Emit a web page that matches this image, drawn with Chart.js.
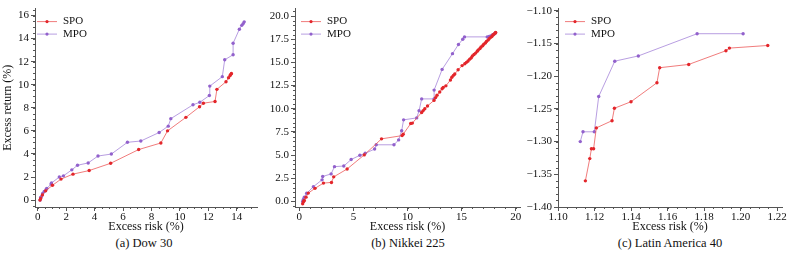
<!DOCTYPE html>
<html>
<head>
<meta charset="utf-8">
<script src="https://cdn.jsdelivr.net/npm/chart.js@4.4.1/dist/chart.umd.min.js"></script>
<style>
body { margin: 0; background: #fff; width: 789px; height: 253px; position: relative; overflow: hidden; font-family: 'Liberation Serif', 'Times New Roman', serif; }
canvas { position: absolute; top: 0; }
.cap { position: absolute; top: 235px; width: 200px; font-size: 12.5px; text-align: center; color: #111; line-height: 16px; }
</style>
</head>
<body>
<canvas id="dow" width="263" height="234" style="left:0px"></canvas>
<canvas id="nikkei" width="263" height="234" style="left:263px"></canvas>
<canvas id="latam" width="263" height="234" style="left:526px"></canvas>
<div class="cap" style="left:44px">(a) Dow 30</div>
<div class="cap" style="left:308px">(b) Nikkei 225</div>
<div class="cap" style="left:570px">(c) Latin America 40</div>
<script>
// Frontières efficientes : SPO vs MPO

const seriesNames = ['SPO', 'MPO'];

// (a) Dow 30
const dowSpoRisk = [0.16, 0.21, 0.33, 0.56, 1.04, 1.64, 2.48, 3.62, 5.13, 7.1, 8.66, 9.13, 10.42, 11.38, 11.65, 12.47, 12.6, 13.24, 13.42, 13.53, 13.58, 13.62];
const dowSpoRet  = [0.0, 0.14, 0.45, 0.8, 1.28, 1.82, 2.25, 2.56, 3.19, 4.38, 4.95, 6.0, 7.17, 8.09, 8.4, 8.55, 9.6, 10.26, 10.6, 10.8, 10.9, 10.98];
const dowMpoRisk = [0.17, 0.21, 0.26, 0.35, 0.46, 0.6, 0.64, 0.94, 0.97, 1.52, 1.81, 2.4, 2.8, 3.55, 4.24, 5.18, 6.31, 7.25, 8.54, 9.18, 9.36, 10.92, 11.4, 12.07, 12.1, 12.98, 13.15, 13.74, 13.74, 14.18, 14.35, 14.45, 14.52];
const dowMpoRet  = [0.0, 0.23, 0.3, 0.57, 0.75, 0.94, 1.0, 1.4, 1.48, 2.0, 2.1, 2.62, 3.02, 3.22, 3.82, 3.99, 5.01, 5.12, 5.86, 6.41, 7.06, 8.26, 8.48, 9.06, 9.88, 10.7, 12.16, 12.6, 13.59, 14.81, 15.15, 15.3, 15.45];

// (b) Nikkei 225
const nikSpoRisk = [0.31, 0.4, 0.46, 0.62, 0.83, 1.45, 2.23, 2.97, 3.18, 4.42, 6.0, 7.6, 9.5, 9.6, 10.3, 10.45, 11.31, 11.45, 11.6, 11.85, 12.45, 12.6, 12.73, 12.98, 13.2, 13.3, 13.55, 13.97, 14.1, 14.25, 14.37, 14.68, 15.05, 15.3, 15.45, 15.6, 15.75, 15.9, 16.0, 16.15, 16.3, 16.45, 16.55, 16.7, 16.8, 16.95, 17.05, 17.2, 17.3, 17.45, 17.55, 17.7, 17.8, 17.9, 18.0, 18.1, 18.15];
const nikSpoRet  = [-0.25, 0.0, 0.1, 0.46, 0.9, 1.41, 1.98, 2.05, 2.65, 3.5, 5.02, 6.75, 7.1, 7.25, 8.4, 8.45, 9.6, 9.8, 10.0, 10.3, 10.9, 11.2, 11.45, 11.8, 12.15, 12.3, 12.47, 13.1, 13.4, 13.6, 13.75, 14.2, 14.65, 14.85, 15.0, 15.15, 15.35, 15.5, 15.7, 15.85, 16.0, 16.2, 16.35, 16.5, 16.65, 16.8, 16.95, 17.1, 17.25, 17.4, 17.55, 17.7, 17.8, 17.95, 18.05, 18.15, 18.22];
const nikMpoRisk = [0.31, 0.37, 0.46, 0.68, 1.3, 2.1, 2.16, 2.94, 3.25, 4.11, 4.79, 5.6, 6.09, 6.96, 7.11, 8.75, 9.18, 9.46, 9.64, 10.85, 11.07, 11.31, 12.46, 12.46, 13.2, 14.16, 14.71, 15.11, 15.27, 17.37, 17.55, 17.7, 17.85, 17.95, 18.05, 18.14];
const nikMpoRet  = [0.0, 0.21, 0.46, 0.88, 1.59, 2.33, 2.69, 2.97, 3.75, 3.82, 4.52, 4.98, 5.19, 5.65, 6.11, 6.11, 6.64, 7.63, 8.8, 9.01, 9.79, 11.06, 11.06, 12.01, 14.24, 15.94, 16.93, 17.49, 17.75, 17.75, 17.8, 17.85, 17.95, 18.0, 18.1, 18.2];

// (c) Latin America 40
const latSpoRisk = [1.1150, 1.1174, 1.1183, 1.1195, 1.1210, 1.1296, 1.1309, 1.1400, 1.1542, 1.1557, 1.1716, 1.1920, 1.1939, 1.2149];
const latSpoRet  = [-1.360, -1.326, -1.311, -1.311, -1.279, -1.268, -1.249, -1.239, -1.210, -1.187, -1.182, -1.161, -1.157, -1.153];
const latMpoRisk = [1.1122, 1.1137, 1.1199, 1.1223, 1.1311, 1.1440, 1.1762, 1.2014];
const latMpoRet  = [-1.300, -1.285, -1.285, -1.231, -1.177, -1.169, -1.135, -1.135];

// graduations
const dowXTicks = [0, 2, 4, 6, 8, 10, 12, 14];
const dowYTicks = [0, 2, 4, 6, 8, 10, 12, 14, 16];
const nikXTicks = [0, 5, 10, 15, 20];
const nikYTicks = [0, 2.5, 5, 7.5, 10, 12.5, 15, 17.5, 20];
const latXTicks = [1.10, 1.12, 1.14, 1.16, 1.18, 1.20, 1.22];
const latYTicks = [-1.40, -1.35, -1.30, -1.25, -1.20, -1.15, -1.10];

const FONT = "'Liberation Serif', 'Times New Roman', serif";
const AXIS = '#555';
const RED = '#e3262b', RED_LINE = 'rgba(235, 80, 80, 0.75)';
const PUR = '#9261cc', PUR_LINE = 'rgba(160, 125, 215, 0.75)';

function pts(xs, ys) {
    return xs.map((x, i) => ({ x: x, y: ys[i] }));
}

// petites graduations + légende dessinées à la main
const extras = {
    id: 'extras',
    afterDraw(chart, args, o) {
        const ctx = chart.ctx;
        const sx = chart.scales.x, sy = chart.scales.y;
        ctx.save();
        ctx.strokeStyle = AXIS;
        ctx.lineWidth = 1;
        for (let k = Math.ceil(sx.min / o.mx); k * o.mx <= sx.max + 1e-9; k++) {
            const px = Math.round(sx.getPixelForValue(k * o.mx)) + 0.5;
            ctx.beginPath(); ctx.moveTo(px, sx.top); ctx.lineTo(px, sx.top + 2); ctx.stroke();
        }
        for (let k = Math.ceil(sy.min / o.my); k * o.my <= sy.max + 1e-9; k++) {
            const py = Math.round(sy.getPixelForValue(k * o.my)) + 0.5;
            ctx.beginPath(); ctx.moveTo(sy.right, py); ctx.lineTo(sy.right - 2, py); ctx.stroke();
        }
        // légende
        const a = chart.chartArea;
        ctx.font = '11px ' + FONT;
        ctx.textBaseline = 'middle';
        chart.data.datasets.forEach((ds, i) => {
            const y = a.top + 13 + i * 12.5;
            const x0 = a.left + o.lx;
            ctx.strokeStyle = ds.borderColor;
            ctx.beginPath(); ctx.moveTo(x0, y); ctx.lineTo(x0 + 20, y); ctx.stroke();
            ctx.fillStyle = ds.pointBackgroundColor;
            ctx.beginPath(); ctx.arc(x0 + 10, y, 1.6, 0, Math.PI * 2); ctx.fill();
            ctx.fillStyle = '#111';
            ctx.fillText(ds.label, x0 + 26, y);
        });
        ctx.restore();
    }
};

function makePanel(id, p) {
    const ds = (label, data, line, pt) => ({
        label: label,
        data: data,
        showLine: true,
        borderColor: line,
        borderWidth: 1,
        pointBackgroundColor: pt,
        pointBorderColor: pt,
        pointBorderWidth: 0,
        pointRadius: 1.7
    });
    return new Chart(document.getElementById(id), {
        type: 'scatter',
        data: {
            datasets: [
                ds(seriesNames[0], p.spo, RED_LINE, RED),
                ds(seriesNames[1], p.mpo, PUR_LINE, PUR)
            ]
        },
        options: {
            responsive: false,
            animation: false,
            layout: { padding: { left: 0, right: p.padRight, top: 5, bottom: 0 } },
            scales: {
                x: {
                    min: p.xMin, max: p.xMax,
                    afterBuildTicks: s => { s.ticks = p.xTicks.map(v => ({ value: v })); },
                    afterFit: s => { s.height = 27; },
                    grid: { drawOnChartArea: false, tickLength: 4, tickColor: AXIS },
                    border: { color: AXIS },
                    ticks: { padding: 0, maxRotation: 0, color: '#111', font: { family: FONT, size: 11 }, callback: p.xFmt },
                    title: { display: true, text: 'Excess risk (%)', color: '#111', font: { family: FONT, size: 12 }, padding: { top: 0, bottom: 0 } }
                },
                y: {
                    min: p.yMin, max: p.yMax,
                    afterBuildTicks: s => { s.ticks = p.yTicks.map(v => ({ value: v })); },
                    afterFit: s => { s.width = p.yWidth; },
                    grid: { drawOnChartArea: false, tickLength: 4, tickColor: AXIS },
                    border: { color: AXIS },
                    ticks: { padding: 2, color: '#111', font: { family: FONT, size: 11 }, callback: p.yFmt },
                    title: { display: !!p.yTitle, text: p.yTitle || '', color: '#111', font: { family: FONT, size: 12 }, padding: { top: 1, bottom: 0 } }
                }
            },
            plugins: {
                legend: { display: false },
                tooltip: { enabled: false },
                extras: { mx: p.mx, my: p.my, lx: p.lx }
            }
        },
        plugins: [extras]
    });
}

const minus = s => s.replace('-', '\u2212');

makePanel('dow', {
    spo: pts(dowSpoRisk, dowSpoRet), mpo: pts(dowMpoRisk, dowMpoRet),
    xMin: -0.19, xMax: 15.42, yMin: -0.6, yMax: 16.6,
    xTicks: dowXTicks, yTicks: dowYTicks, mx: 0.5, my: 0.5,
    xFmt: v => String(v), yFmt: v => String(v),
    yWidth: 35, padRight: 6, lx: 2, yTitle: 'Excess return (%)'
});

makePanel('nikkei', {
    spo: pts(nikSpoRisk, nikSpoRet), mpo: pts(nikMpoRisk, nikMpoRet),
    xMin: -0.4, xMax: 20.4, yMin: -0.6, yMax: 20.8,
    xTicks: nikXTicks, yTicks: nikYTicks, mx: 1, my: 0.5,
    xFmt: v => String(v), yFmt: v => v.toFixed(1),
    yWidth: 32, padRight: 6, lx: 6
});

makePanel('latam', {
    spo: pts(latSpoRisk, latSpoRet), mpo: pts(latMpoRisk, latMpoRet),
    xMin: 1.10, xMax: 1.2227, yMin: -1.40, yMax: -1.0966,
    xTicks: latXTicks, yTicks: latYTicks, mx: 0.005, my: 0.01,
    xFmt: v => v.toFixed(2), yFmt: v => minus(v.toFixed(2)),
    yWidth: 32, padRight: 7, lx: 7
});
</script>
</body>
</html>
